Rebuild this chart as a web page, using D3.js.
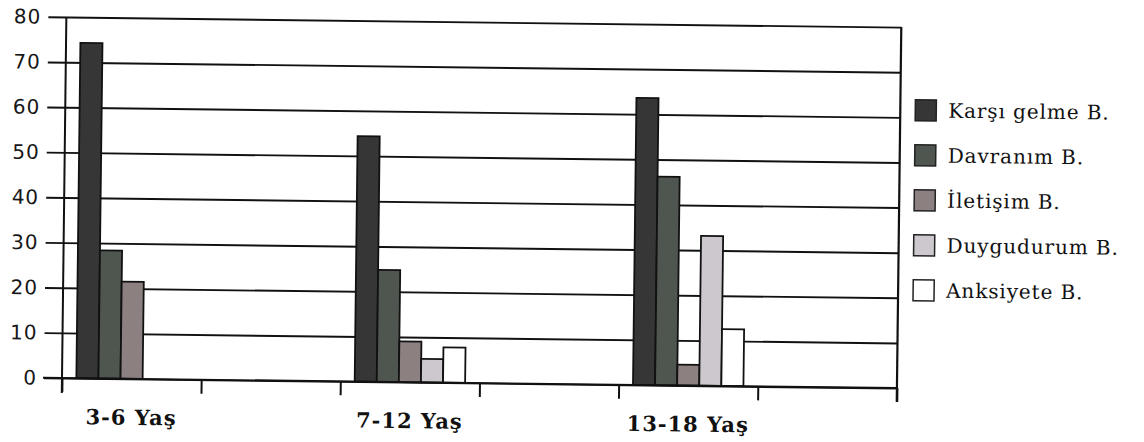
<!DOCTYPE html>
<html>
<head>
<meta charset="utf-8">
<script src="https://cdn.jsdelivr.net/npm/d3@7/dist/d3.min.js"></script>
<style>
  body { margin: 0; background: #fff; }
</style>
</head>
<body>
<div id="chart"></div>
<script>
// Data
const categories = ["3-6 Yaş", "7-12 Yaş", "13-18 Yaş"];
const seriesNames = ["Karşı gelme B.", "Davranım B.", "İletişim B.", "Duygudurum B.", "Anksiyete B."];
const karsiGelme = [74.3, 54.4, 63.6];
const davranim = [28.4, 24.8, 46.2];
const iletisim = [21.5, 9, 4.6];
const duygudurum = [0, 5.2, 33.2];
const anksiyete = [0, 7.8, 12.6];
const yTicks = [0, 10, 20, 30, 40, 50, 60, 70, 80];

const seriesValues = [karsiGelme, davranim, iletisim, duygudurum, anksiyete];
const seriesColors = ["#363636", "#4f5650", "#8c8080", "#cdc8ce", "#ffffff"];

// Dimensions
const dimensions = {
    width: 1144,
    height: 442,
    left: 62,
    right: 897,
    top: 17,
    bottom: 378
};

const svg = d3.select("#chart")
    .append("svg")
    .attr("width", dimensions.width)
    .attr("height", dimensions.height);

// the scanned page is slightly tilted
const chart = svg.append("g")
    .attr("transform", `rotate(0.69, ${dimensions.left}, ${dimensions.bottom})`);

// Scales
const slotCount = categories.length * 2;   // each group sits in every other slot
const x0 = d3.scaleBand()
    .domain(d3.range(slotCount))
    .range([dimensions.left, dimensions.right]);

const x1 = d3.scaleBand()
    .domain(seriesNames)
    .range([0, x0.bandwidth()])
    .paddingOuter(0.65);

const xEdge = d3.scaleLinear()
    .domain([0, slotCount])
    .range([dimensions.left, dimensions.right]);

const yScale = d3.scaleLinear()
    .domain([0, 80])
    .range([dimensions.bottom, dimensions.top]);

const plotWidth = dimensions.right - dimensions.left;

// Y axis with gridlines
const yAxis = d3.axisLeft(yScale)
    .tickValues(yTicks)
    .tickSize(18)
    .tickPadding(7);

const yAxisGroup = chart.append("g")
    .attr("transform", `translate(${dimensions.left}, 0)`)
    .call(yAxis);

yAxisGroup.select(".domain").remove();
yAxisGroup.selectAll(".tick line")
    .attr("x1", plotWidth)
    .attr("stroke", "#111")
    .attr("stroke-width", 1.9);
yAxisGroup.selectAll(".tick text")
    .attr("fill", "#161616")
    .style("font-family", "'DejaVu Sans', sans-serif")
    .style("font-size", "20px")
    .style("letter-spacing", "1px");

// Bars
const barData = [];
categories.forEach((cat, i) => {
    seriesNames.forEach((name, j) => {
        barData.push({ slot: i * 2, name: name, value: seriesValues[j][i], color: seriesColors[j] });
    });
});

chart.append("g")
    .selectAll("rect")
    .data(barData.filter(d => d.value > 0))
    .join("rect")
        .attr("x", d => x0(d.slot) + x1(d.name))
        .attr("y", d => yScale(d.value))
        .attr("width", x1.bandwidth())
        .attr("height", d => yScale(0) - yScale(d.value))
        .attr("fill", d => d.color)
        .attr("stroke", "#111")
        .attr("stroke-width", 1.8);

// X axis: ticks at slot edges
const xAxis = d3.axisBottom(xEdge)
    .tickValues(d3.range(slotCount + 1))
    .tickSize(14)
    .tickFormat("");

const xAxisGroup = chart.append("g")
    .attr("transform", `translate(0, ${dimensions.bottom})`)
    .call(xAxis);

xAxisGroup.select(".domain")
    .attr("d", `M${dimensions.left - 19},0H${dimensions.right}`)
    .attr("stroke", "#111")
    .attr("stroke-width", 1.9);
xAxisGroup.selectAll(".tick line")
    .attr("stroke", "#111")
    .attr("stroke-width", 2);

// left axis line and right border
chart.append("line")
    .attr("x1", dimensions.left).attr("x2", dimensions.left)
    .attr("y1", dimensions.top).attr("y2", dimensions.bottom + 15)
    .attr("stroke", "#111")
    .attr("stroke-width", 2);

chart.append("line")
    .attr("x1", dimensions.right).attr("x2", dimensions.right)
    .attr("y1", dimensions.top).attr("y2", dimensions.bottom + 14)
    .attr("stroke", "#111")
    .attr("stroke-width", 2.2);

// Category labels
chart.append("g")
    .selectAll("text")
    .data(categories)
    .join("text")
        .attr("x", (d, i) => x0(i * 2) + x0.bandwidth() / 2)
        .attr("y", 424)
        .attr("text-anchor", "middle")
        .attr("fill", "#111")
        .style("font-family", "'DejaVu Serif', serif")
        .style("font-weight", "bold")
        .style("font-size", "21px")
        .style("letter-spacing", "1px")
        .text(d => d);

// Legend
const legend = chart.append("g")
    .attr("transform", "translate(912, 100)");

const legendItems = legend.selectAll("g")
    .data(seriesNames)
    .join("g")
        .attr("transform", (d, i) => `translate(0, ${i * 45})`);

legendItems.append("rect")
    .attr("x", 0)
    .attr("y", -10.5)
    .attr("width", 21)
    .attr("height", 21)
    .attr("fill", (d, i) => seriesColors[i])
    .attr("stroke", "#222")
    .attr("stroke-width", 1.5);

legendItems.append("text")
    .attr("x", 33)
    .attr("dy", "0.35em")
    .attr("fill", "#111")
    .style("font-family", "'DejaVu Serif', serif")
    .style("font-size", "20px")
    .style("letter-spacing", "0.9px")
    .text(d => d);
</script>
</body>
</html>
